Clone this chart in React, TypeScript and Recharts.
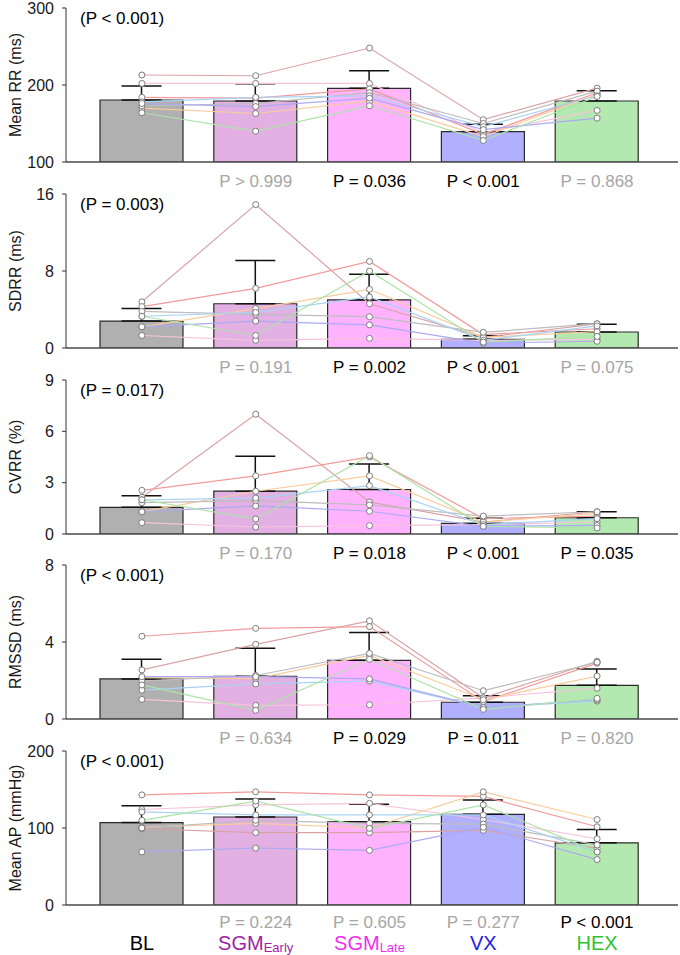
import React from 'react';
import { ComposedChart, Bar, Line, XAxis, YAxis, ErrorBar, Cell } from 'recharts';

const FONT = '"Liberation Sans", Arial, Helvetica, sans-serif';

const categories = ['BL', 'SGM_Early', 'SGM_Late', 'VX', 'HEX'];
const categoryColors = ['#000000', '#a11fa6', '#f02ef0', '#1f1fe0', '#2fc42f'];
const barColors = ['#b0b0b0', '#e2b0e2', '#ffb3ff', '#b0b0ff', '#b3e9b0'];
// subjects: rosy, pink, red, orange, gray, light blue, blue, green
const subjectColors = ['#d9a3a6', '#f7c3dc', '#f29a9a', '#f8cc9c', '#bdbdbd', '#a9d3f3', '#abaaf2', '#ade3a8'];

const GRAY = '#a6a6a6';
const BLACK = '#000000';

// Panel 1: Mean RR (ms)
const rrMean = [180.5, 179.2, 195.7, 139.4, 179.2];
const rrSD = [18.2, 22.5, 22.9, 9.6, 13.4];
const rrSubjects = [
  [213, 212, 248, 155, 196],
  [202, 202, 202, 138, 167],
  [184, 183, 195, 136, 190],
  [170, 163, 179, 133, 188],
  [173, 176, 190, 150, 192],
  [178, 184, 186, 146, 186],
  [176, 172, 183, 142, 157],
  [164, 140, 173, 128, 185],
];
const rrP = ['', 'P > 0.999', 'P = 0.036', 'P < 0.001', 'P = 0.868'];
const rrPColors = [BLACK, GRAY, BLACK, BLACK, GRAY];
const rrTicks = [100, 200, 300];

// Panel 2: SDRR (ms)
const sdMean = [2.8, 4.6, 5.0, 0.9, 1.66];
const sdSD = [1.3, 4.5, 2.66, 0.38, 0.8];
const sdSubjects = [
  [4.8, 14.9, 4.6, 1.1, 2.5],
  [1.3, 0.8, 1.0, 0.8, 0.9],
  [4.3, 6.2, 9.0, 1.4, 2.0],
  [2.2, 4.1, 6.1, 1.1, 1.7],
  [3.8, 3.5, 3.25, 1.63, 2.53],
  [3.3, 3.7, 5.3, 0.8, 2.3],
  [2.2, 2.8, 2.4, 0.5, 0.7],
  [3.3, 1.3, 8.0, 0.6, 1.2],
];
const sdP = ['', 'P = 0.191', 'P = 0.002', 'P < 0.001', 'P = 0.075'];
const sdPColors = [BLACK, GRAY, BLACK, BLACK, GRAY];
const sdTicks = [0, 8, 16];

// Panel 3: CVRR (%)
const cvMean = [1.56, 2.5, 2.6, 0.62, 0.95];
const cvSD = [0.68, 2.04, 1.49, 0.3, 0.35];
const cvSubjects = [
  [2.15, 7.0, 1.87, 0.7, 1.3],
  [0.66, 0.41, 0.49, 0.55, 0.7],
  [2.55, 3.4, 4.5, 0.9, 1.05],
  [1.3, 2.5, 3.4, 0.7, 1.2],
  [1.83, 1.95, 1.7, 1.05, 1.3],
  [2.0, 2.1, 2.83, 0.55, 0.9],
  [1.3, 1.64, 1.33, 0.45, 0.5],
  [2.0, 0.88, 4.58, 0.45, 0.35],
];
const cvP = ['', 'P = 0.170', 'P = 0.018', 'P < 0.001', 'P = 0.035'];
const cvPColors = [BLACK, GRAY, BLACK, BLACK, BLACK];
const cvTicks = [0, 3, 6, 9];

// Panel 4: RMSSD (ms)
const rmMean = [2.08, 2.22, 3.05, 0.87, 1.75];
const rmSD = [1.02, 1.45, 1.45, 0.34, 0.85];
const rmSubjects = [
  [2.55, 3.88, 5.1, 1.1, 3.0],
  [1.02, 0.71, 0.74, 1.1, 1.6],
  [4.3, 4.71, 4.8, 0.9, 2.9],
  [2.15, 2.1, 3.3, 1.0, 2.23],
  [1.97, 2.26, 3.41, 1.47, 2.95],
  [1.5, 1.82, 1.97, 0.6, 0.93],
  [2.2, 2.2, 2.08, 0.6, 1.0],
  [1.77, 0.45, 3.1, 0.5, 1.07],
];
const rmP = ['', 'P = 0.634', 'P = 0.029', 'P = 0.011', 'P = 0.820'];
const rmPColors = [BLACK, GRAY, BLACK, BLACK, GRAY];
const rmTicks = [0, 4, 8];

// Panel 5: Mean AP (mmHg)
const apMean = [107, 114.3, 108.2, 117.7, 80.8];
const apSD = [22, 23.4, 22.5, 18.7, 17.2];
const apSubjects = [
  [99, 94, 94, 97, 73.5],
  [124, 130, 132, 111, 86],
  [143, 147, 143, 141, 101.6],
  [101, 106, 100, 147, 111],
  [100, 110, 106, 105, 78],
  [121, 117, 117, 117, 69],
  [69, 74, 71, 101, 59],
  [110, 135, 99.6, 130, 69],
];
const apP = ['', 'P = 0.224', 'P = 0.605', 'P = 0.277', 'P < 0.001'];
const apPColors = [BLACK, GRAY, GRAY, GRAY, BLACK];
const apTicks = [0, 100, 200];

const overallP = ['(P < 0.001)', '(P = 0.003)', '(P = 0.017)', '(P < 0.001)', '(P < 0.001)'];
const yLabels = ['Mean RR (ms)', 'SDRR (ms)', 'CVRR (%)', 'RMSSD (ms)', 'Mean AP (mmHg)'];
const panelTops = [8, 194, 380, 565, 751];

const panels = [
  { mean: rrMean, sd: rrSD, subjects: rrSubjects, p: rrP, pc: rrPColors, ticks: rrTicks },
  { mean: sdMean, sd: sdSD, subjects: sdSubjects, p: sdP, pc: sdPColors, ticks: sdTicks },
  { mean: cvMean, sd: cvSD, subjects: cvSubjects, p: cvP, pc: cvPColors, ticks: cvTicks },
  { mean: rmMean, sd: rmSD, subjects: rmSubjects, p: rmP, pc: rmPColors, ticks: rmTicks },
  { mean: apMean, sd: apSD, subjects: apSubjects, p: apP, pc: apPColors, ticks: apTicks },
];

const W = 680;
const PLOT_TOP = 10;
const PLOT_H = 154;
const XAXIS_H = 52;
const CHART_H = PLOT_TOP + PLOT_H + XAXIS_H;
const AXIS_X = 66;

function CategoryLabel({ i, x, y }: { i: number; x: number; y: number }) {
  const c = categories[i];
  const parts = c.split('_');
  return (
    <text x={x} y={y} textAnchor="middle" fontSize={20} fill={categoryColors[i]} fontFamily={FONT}>
      <tspan>{parts[0]}</tspan>
      {parts[1] ? (
        <tspan fontSize={13} dy={2}>
          {parts[1]}
        </tspan>
      ) : null}
    </text>
  );
}

function Panel({ idx }: { idx: number }) {
  const cfg = panels[idx];
  const showCats = idx === panels.length - 1;
  const data = categories.map((c, i) => {
    const row: any = { cat: c, mean: cfg.mean[i], err: [0, cfg.sd[i]] };
    cfg.subjects.forEach((s, k) => {
      row['s' + k] = s[i];
    });
    return row;
  });
  const axisY = PLOT_TOP + PLOT_H;
  const pY = showCats ? axisY + 23 : axisY + 25;
  const renderTick = (props: any) => {
    const { x, payload } = props;
    const i = props.index != null ? props.index : categories.indexOf(payload.value);
    return (
      <g>
        {cfg.p[i] ? (
          <text x={x} y={pY} textAnchor="middle" fontSize={17} fill={cfg.pc[i]} fontFamily={FONT}>
            {cfg.p[i]}
          </text>
        ) : null}
        {showCats ? <CategoryLabel i={i} x={x} y={axisY + 45} /> : null}
      </g>
    );
  };
  const domain = [cfg.ticks[0], cfg.ticks[cfg.ticks.length - 1]];
  const cy = PLOT_TOP + PLOT_H / 2;
  return (
    <div style={{ position: 'absolute', left: 0, top: panelTops[idx] - PLOT_TOP, width: W, height: CHART_H }}>
      <ComposedChart
        width={W}
        height={CHART_H}
        data={data}
        margin={{ top: PLOT_TOP, right: 2, bottom: 0, left: 0 }}
      >
        <XAxis
          dataKey="cat"
          type="category"
          padding={{ left: 19, right: 24 }}
          tickLine={false}
          axisLine={{ stroke: '#4a4a4a', strokeWidth: 1.5 }}
          tick={renderTick}
          interval={0}
          height={XAXIS_H}
        />
        <YAxis
          type="number"
          width={AXIS_X}
          domain={domain}
          ticks={cfg.ticks}
          allowDataOverflow
          tickSize={4}
          tickMargin={8}
          tickLine={{ stroke: '#333' }}
          axisLine={{ stroke: '#333', strokeWidth: 1 }}
          tick={{ fontSize: 16, fill: '#1a1a1a', fontFamily: FONT }}
        />
        <Bar dataKey="mean" barSize={83} stroke="#2a2a2a" strokeWidth={1.2} isAnimationActive={false}>
          {data.map((_, i) => (
            <Cell key={i} fill={barColors[i]} />
          ))}
          <ErrorBar dataKey="err" direction="y" width={20} stroke="#111" strokeWidth={1.5} />
        </Bar>
        {subjectColors.map((col, k) => (
          <Line
            key={'l' + k}
            type="linear"
            dataKey={'s' + k}
            stroke={col}
            strokeWidth={1.2}
            dot={false}
            activeDot={false}
            isAnimationActive={false}
          />
        ))}
        {subjectColors.map((col, k) => (
          <Line
            key={'d' + k}
            type="linear"
            dataKey={'s' + k}
            stroke="none"
            strokeWidth={0}
            dot={{ r: 3, fill: '#ffffff', stroke: '#7d7d7d', strokeWidth: 1 }}
            activeDot={false}
            isAnimationActive={false}
          />
        ))}
      </ComposedChart>
      <svg
        width={W}
        height={CHART_H}
        style={{ position: 'absolute', left: 0, top: 0, pointerEvents: 'none' }}
      >
        <text
          x={15}
          y={cy}
          transform={`rotate(-90 15 ${cy})`}
          textAnchor="middle"
          dominantBaseline="central"
          fontSize={16}
          fill="#1a1a1a"
          fontFamily={FONT}
        >
          {yLabels[idx]}
        </text>
        <text x={80} y={PLOT_TOP + 16} fontSize={17} fill="#000" fontFamily={FONT}>
          {overallP[idx]}
        </text>
      </svg>
    </div>
  );
}

export default function App() {
  return (
    <div style={{ position: 'absolute', left: 0, top: 0, width: W, height: 955, background: '#fff', overflow: 'hidden' }}>
      {panels.map((_, i) => (
        <Panel key={i} idx={i} />
      ))}
    </div>
  );
}
